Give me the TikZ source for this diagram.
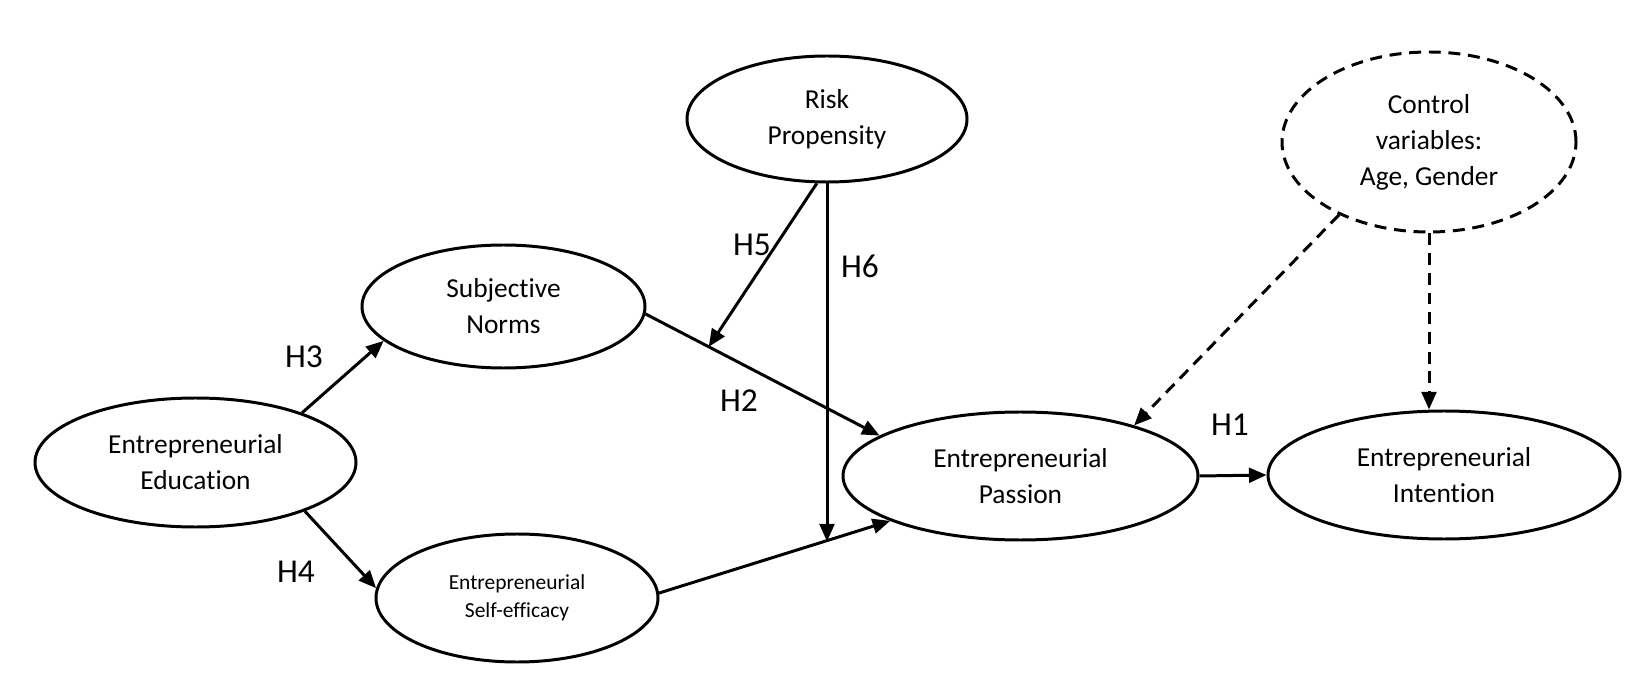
\documentclass[tikz,border=0pt]{standalone}
\usepackage{fontspec}
\setmainfont{Carlito}[Ligatures=NoCommon]
\usetikzlibrary{arrows.meta,shapes.geometric}

\begin{document}
\begin{tikzpicture}[
  latent/.style={ellipse, draw, line width=0.85pt, inner sep=0pt, align=center, font=\fontsize{7.8}{10.2}\selectfont},
  hyp/.style={font=\fontsize{9.5}{11}\selectfont, inner sep=0pt},
  arr/.style={-{Triangle[length=5pt,width=4.2pt]}, line width=0.85pt},
  dasharr/.style={arr, dash pattern=on 3.4pt off 2.2pt}]
\useasboundingbox (0,0) rectangle (16.45,6.78);
\node[latent, minimum width=3.21cm, minimum height=1.29cm] (edu) at (1.955,2.155) {Entrepreneurial\\Education};
\node[latent, minimum width=2.83cm, minimum height=1.23cm] (sn) at (5.035,3.715) {Subjective\\Norms};
\node[latent, minimum width=2.82cm, minimum height=1.28cm, font=\fontsize{6.1}{8}\selectfont] (se) at (5.17,0.80) {Entrepreneurial\\Self-efficacy};
\node[latent, minimum width=2.80cm, minimum height=1.26cm] (rp) at (8.27,5.59) {Risk\\Propensity};
\node[latent, minimum width=3.55cm, minimum height=1.28cm] (pas) at (10.205,2.02) {Entrepreneurial\\Passion};
\node[latent, minimum width=3.52cm, minimum height=1.28cm] (int) at (14.44,2.03) {Entrepreneurial\\Intention};
\node[latent, dash pattern=on 3.4pt off 2.2pt, minimum width=2.94cm, minimum height=1.80cm] (ctl) at (14.29,5.36) {Control\\variables:\\Age, Gender};
\draw[arr] (edu.25) -- (sn.196);
\draw[arr] (edu.-24) -- (se.176);
\draw[arr] (sn.-3) -- coordinate[pos=0.27] (m5) (pas.164);
\draw[arr] (se.2) -- coordinate[pos=0.714] (m6) (pas.199);
\draw[arr] (rp.261) -- (m5);
\draw[arr] (rp.south) -- (rp.south |- m6);
\draw[arr] (pas.east) -- (int.west);
\draw[dasharr] (ctl.219) -- (pas.24);
\draw[dasharr] (ctl.south) -- (ctl.south |- int.north);
\node[hyp] (h3) at (3.04,3.21) {H3};
\node[hyp] (h4) at (2.96,1.06) {H4};
\node[hyp] (h5) at (7.52,4.33) {H5};
\node[hyp] (h6) at (8.60,4.12) {H6};
\node[hyp] (h2) at (7.39,2.77) {H2};
\node[hyp] (h1) at (12.30,2.53) {H1};
\end{tikzpicture}
\end{document}
